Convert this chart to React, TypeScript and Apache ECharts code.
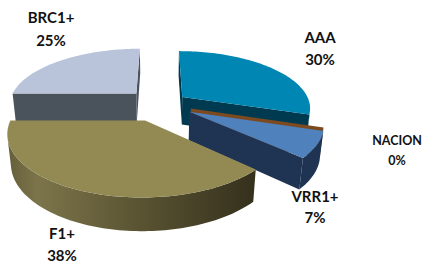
import { useEffect, useRef } from "react";
import * as echarts from "echarts";

// ---- data ----
const categories = ["AAA", "NACION", "VRR1+", "F1+", "BRC1+"];
const values = [30, 0, 7, 38, 25];

// ---- styling / layout ----
const explode = [0.22, 0.25, 0.26, 0.3, 0.27];
const topColors = ["#0086b3", "#7b4a20", "#4f81bd", "#938953", "#b9c4db"];
const faceColors = ["#003a50", "#7b4a20", "#1f3352", "#4b4629", "#4a525b"];
const wallColors: any[] = ["#003a50", "#7b4a20", "#1f3352", null, "#4a525b"];
const labelPos = [
  [320, 48],
  [397, 150],
  [315, 206],
  [62, 244],
  [51, 28],
];
const labelSize = [15, 12.5, 15, 15, 15];
const labelLine = [22, 20, 21, 22, 23];

const D = 5;
const SIN = 0.44;
const COS = Math.sqrt(1 - SIN * SIN);
const F = 128 * D;
const H = 0.25;
const CX = 160;
const CY = 104;
const RAD = Math.PI / 180;

function proj(X: number, Y: number, Z: number): number[] {
  const zc = D + Z * COS - Y * SIN;
  const yc = Y * COS + Z * SIN;
  return [CX + (F * X) / zc, CY - (F * yc) / zc];
}

export default function App() {
  const ref = useRef<HTMLDivElement>(null);
  useEffect(() => {
    if (!ref.current) return;
    const chart = echarts.init(ref.current, undefined, { renderer: "svg" });
    const total = values.reduce((a, b) => a + b, 0);
    const starts: number[] = [];
    let acc = 0;
    values.forEach((v) => {
      starts.push((acc / total) * 360);
      acc += v;
    });
    // draw order: far slices first (by depth of mid angle)
    const depth = values.map((v, i) => {
      const m = (starts[i] + ((v / total) * 360) / 2) * RAD;
      return Math.cos(m);
    });
    const order = values.map((_, i) => i).sort((a, b) => depth[b] - depth[a]);

    const renderItem = (params: any, api: any) => {
      const i = api.value(0);
      const rank = api.value(1);
      const a1 = starts[i];
      const a2 = starts[i] + (values[i] / total) * 360;
      const m = ((a1 + a2) / 2) * RAD;
      const ox = explode[i] * Math.sin(m);
      const oz = explode[i] * Math.cos(m);
      const rim = (deg: number, y: number) => {
        const t = deg * RAD;
        return proj(ox + Math.sin(t), y, oz + Math.cos(t));
      };
      const apex = (y: number) => proj(ox, y, oz);
      const camZ = -D * COS;
      const children: any[] = [];
      const z2 = rank * 10;

      // outer wall
      if (a2 > a1) {
        const steps = Math.max(2, Math.ceil((a2 - a1) / 1.5));
        const vis: number[] = [];
        for (let k = 0; k <= steps; k++) {
          const deg = a1 + ((a2 - a1) * k) / steps;
          const t = deg * RAD;
          const px = ox + Math.sin(t);
          const pz = oz + Math.cos(t);
          if (Math.sin(t) * (0 - px) + Math.cos(t) * (camZ - pz) > 0) vis.push(deg);
        }
        if (vis.length >= 2) {
          const pts = vis.map((d) => rim(d, 0)).concat(vis.slice().reverse().map((d) => rim(d, -H)));
          const fill =
            wallColors[i] ||
            new echarts.graphic.LinearGradient(0, 0, 1, 0, [
              { offset: 0, color: "#655f3a" },
              { offset: 0.12, color: "#7c744a" },
              { offset: 0.5, color: "#5c5634" },
              { offset: 1, color: "#34301c" },
            ]);
          children.push({ type: "polygon", z2, shape: { points: pts }, style: { fill } });
        }
      }
      // radial faces
      const radial = (deg: number, isStart: boolean) => {
        const t = deg * RAD;
        const nx = isStart ? -Math.cos(t) : Math.cos(t);
        const nz = isStart ? Math.sin(t) : -Math.sin(t);
        const px = ox + 0.5 * Math.sin(t);
        const pz = oz + 0.5 * Math.cos(t);
        if (nx * (0 - px) + nz * (camZ - pz) <= 0) return;
        children.push({
          type: "polygon",
          z2: z2 + 1,
          shape: { points: [apex(0), rim(deg, 0), rim(deg, -H), apex(-H)] },
          style: { fill: faceColors[i] },
        });
      };
      if (a2 > a1) radial(a1, true);
      radial(a2, false);
      // top face
      if (a2 > a1) {
        const steps = Math.max(2, Math.ceil((a2 - a1) / 1.5));
        const pts = [apex(0)];
        for (let k = 0; k <= steps; k++) pts.push(rim(a1 + ((a2 - a1) * k) / steps, 0));
        children.push({ type: "polygon", z2: z2 + 2, shape: { points: pts }, style: { fill: topColors[i] } });
      }
      // label
      const pct = Math.round((values[i] / total) * 100) + "%";
      children.push({
        type: "text",
        z2: 1000,
        x: labelPos[i][0],
        y: labelPos[i][1],
        style: {
          text: categories[i] + "\n" + pct,
          fill: "#111111",
          fontFamily: "Lato",
          fontWeight: "bold",
          fontSize: labelSize[i],
          lineHeight: labelLine[i],
          align: "center",
          verticalAlign: "middle",
        },
      });
      return { type: "group", children };
    };

    chart.setOption({
      animation: false,
      backgroundColor: "#ffffff",
      series: [
        {
          type: "custom",
          coordinateSystem: "none",
          silent: true,
          data: order.map((i, r) => [i, r]),
          renderItem,
        },
      ],
    });
    return () => chart.dispose();
  }, []);
  return (
    <div
      ref={ref}
      style={{ position: "fixed", left: 0, top: 0, width: 425, height: 266 }}
    />
  );
}
